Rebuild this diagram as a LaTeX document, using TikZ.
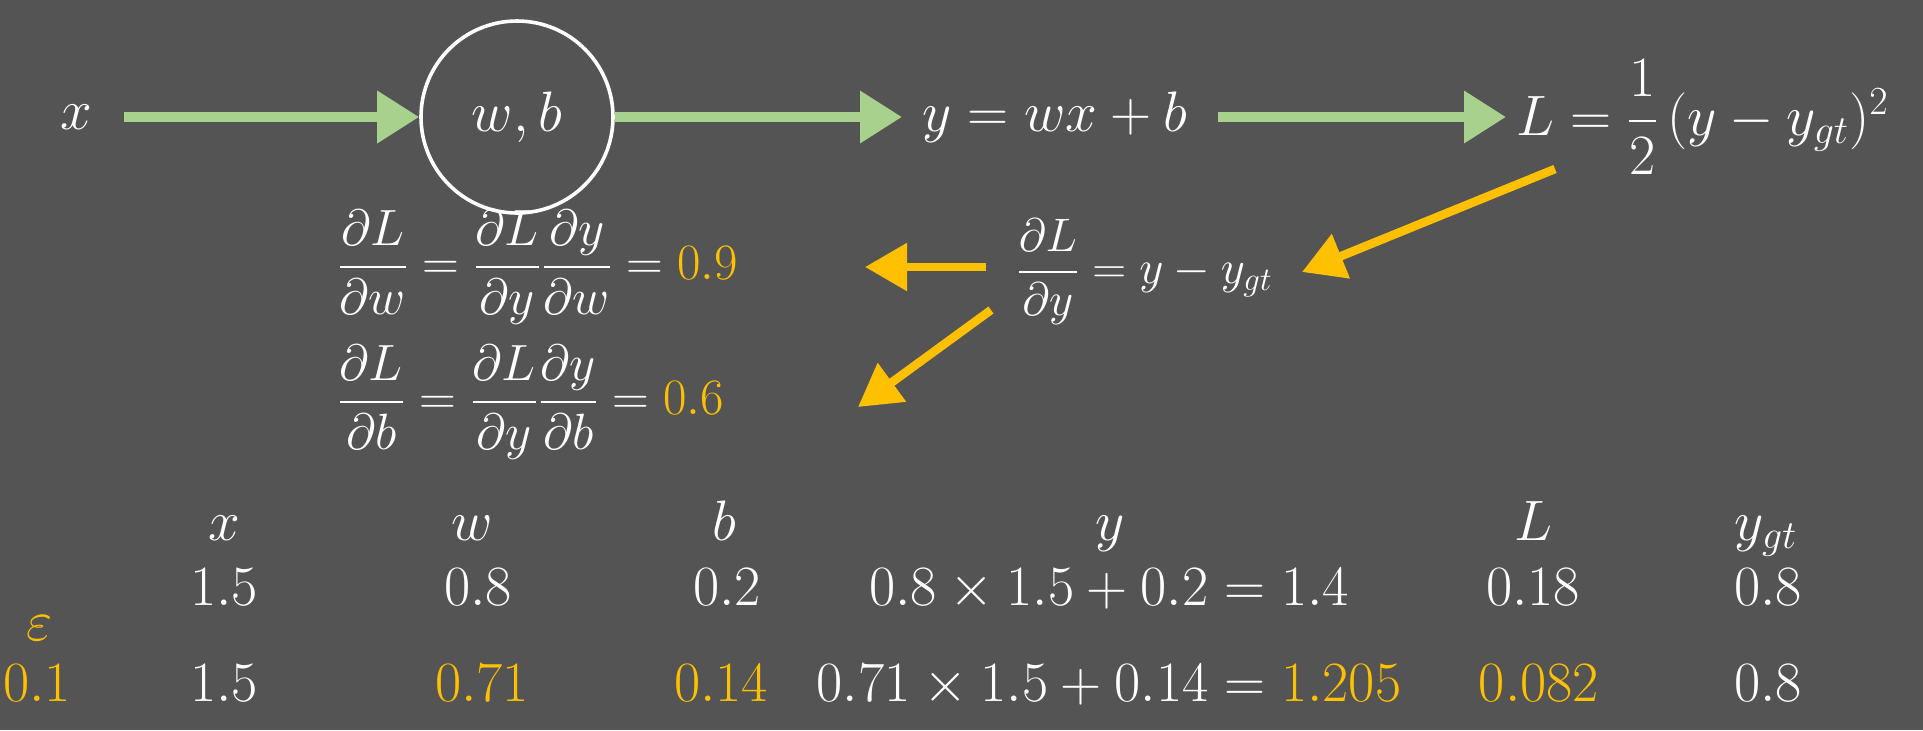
\RequirePackage{fix-cm}
\documentclass[tikz,border=0pt]{standalone}
\usepackage{amsmath}
\usetikzlibrary{arrows.meta,calc}
\definecolor{bg}{RGB}{84,84,84}
\definecolor{garr}{RGB}{169,209,142}
\definecolor{oarr}{RGB}{255,192,0}
\begin{document}
\begin{tikzpicture}[x=0.5pt,y=-0.5pt,
  txt/.style={text=white, font=\fontsize{28.5}{34}\selectfont, inner sep=0pt},
  top/.style={text=white, font=\fontsize{28.5}{34}\selectfont, inner sep=0pt},
  mid/.style={text=white, font=\fontsize{25.5}{30}\selectfont, inner sep=0pt},
  garrow/.style={draw=garr, line width=5pt, -{Triangle[length=21pt,width=25pt,fill=garr]}},
  oarrow/.style={draw=oarr, line width=4.3pt, -{Triangle[length=21pt,width=23pt,fill=oarr]}}]
\path[fill=bg] (0,0) rectangle (1923,730);
% top row
\node[top] (xin) at (76,117) {$x$};
\node[top, circle, draw=white, line width=1.8pt, minimum size=96pt] (c) at (517,117) {$w,b$};
\node[top, anchor=west] (yeq) at (922,117) {$y=wx+b$};
\node[top, anchor=west] (Leq) at (1516,117) {$L=\dfrac{1}{2}\,(y-y_{gt})^2$};
\draw[garrow] ([xshift=16pt]xin.east) -- (c.west);
\draw[garrow] (c.east) -- ([xshift=-10pt]yeq.west);
\draw[garrow] ([xshift=15pt]yeq.east) -- ([xshift=-5pt]Leq.west);
% middle
\node[mid, anchor=west, font=\fontsize{23.5}{28}\selectfont] (dy) at (1016,272) {$\dfrac{\partial L}{\partial y}=y-y_{gt}$};
\node[mid, anchor=west] (dw) at (337,267) {$\dfrac{\partial L}{\partial w}=\dfrac{\partial L}{\partial y}\dfrac{\partial y}{\partial w}=\textcolor{oarr}{0.9}$};
\node[mid, anchor=west] (db) at (337,402) {$\dfrac{\partial L}{\partial b}=\dfrac{\partial L}{\partial y}\dfrac{\partial y}{\partial b}=\textcolor{oarr}{0.6}$};
\coordinate (o1s) at (1555,169);
\coordinate (o1e) at (1302,272);
\coordinate (o2s) at (986,267);
\coordinate (o2e) at (865,267);
\coordinate (o3s) at (991,310);
\coordinate (o3e) at (858,407);
\draw[oarrow] (o1s) -- (o1e);
\draw[oarrow] (o2s) -- (o2e);
\draw[oarrow] (o3s) -- (o3e);
% table header
\node[txt, anchor=base] (hx) at (224,540) {$x$};
\node[txt, anchor=base] (hw) at (472,540) {$w$};
\node[txt, anchor=base] (hb) at (724,540) {$b$};
\node[txt, anchor=base] (hy) at (1110,540) {$y$};
\node[txt, anchor=base] (hL) at (1533,540) {$L$};
\node[txt, anchor=base] (hg) at (1766,540) {$y_{gt}$};
% row 1
\node[txt, anchor=base] (r1x) at (224,605) {$1.5$};
\node[txt, anchor=base] (r1w) at (478,605) {$0.8$};
\node[txt, anchor=base] (r1b) at (727,605) {$0.2$};
\node[txt, anchor=base] (r1y) at (1109,605) {$0.8\times1.5+0.2=1.4$};
\node[txt, anchor=base] (r1L) at (1533,605) {$0.18$};
\node[txt, anchor=base] (r1g) at (1768,605) {$0.8$};
% epsilon
\node[txt, anchor=base, text=oarr] (eps) at (40,640) {$\varepsilon$};
% row 2
\node[txt, anchor=base, text=oarr] (r2e) at (37,701) {$0.1$};
\node[txt, anchor=base] (r2x) at (224,701) {$1.5$};
\node[txt, anchor=base, text=oarr] (r2w) at (482,701) {$0.71$};
\node[txt, anchor=base, text=oarr] (r2b) at (721,701) {$0.14$};
\node[txt, anchor=base] (r2y) at (1109,701) {$0.71\times1.5+0.14=\textcolor{oarr}{1.205}$};
\node[txt, anchor=base, text=oarr] (r2L) at (1539,701) {$0.082$};
\node[txt, anchor=base] (r2g) at (1768,701) {$0.8$};
\end{tikzpicture}
\end{document}
